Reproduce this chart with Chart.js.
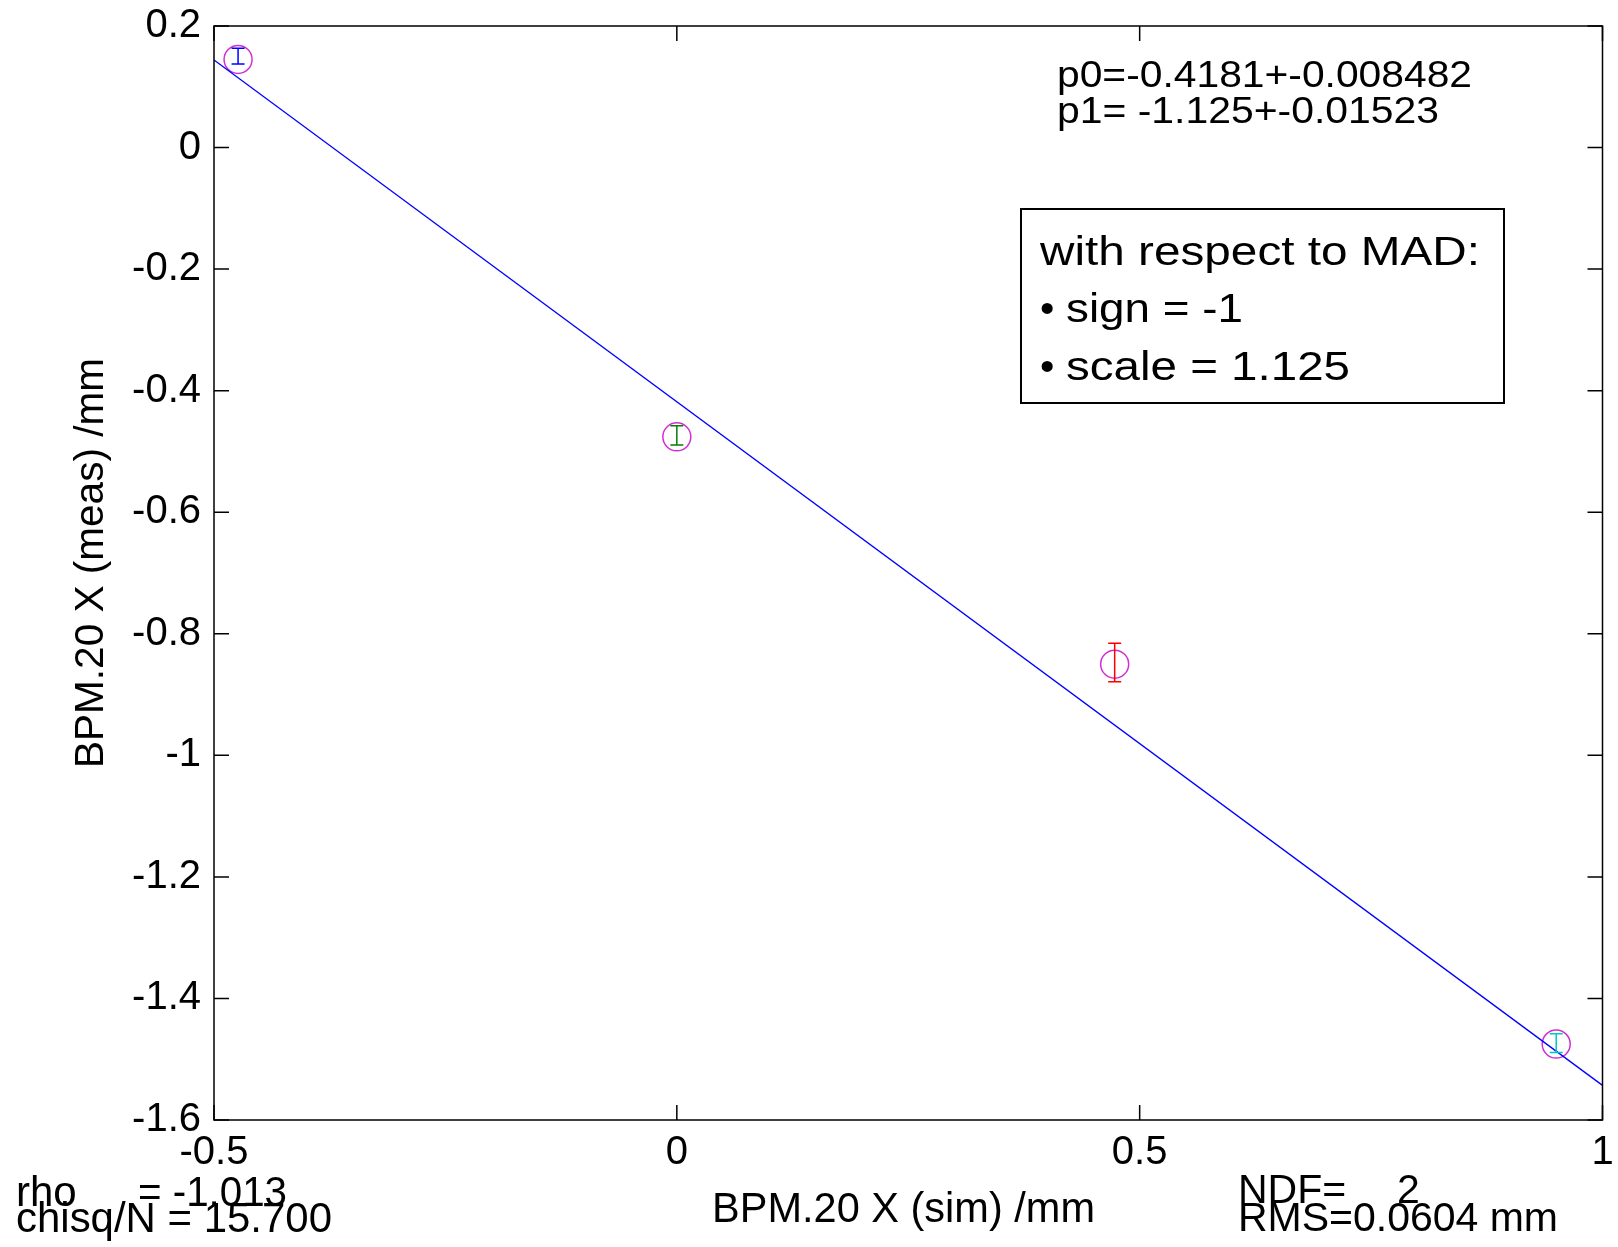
<!DOCTYPE html>
<html>
<head>
<meta charset="utf-8">
<title>BPM.20 X</title>
<script src="https://cdn.jsdelivr.net/npm/chart.js@4.4.0/dist/chart.umd.min.js"></script>
<style>
  html, body { margin: 0; padding: 0; background: #fff; }
  #wrap { width: 1618px; height: 1247px; }
</style>
</head>
<body>
<div id="wrap"><canvas id="bpmChart" width="1618" height="1247"></canvas></div>
<script>
// measured points, sim vs meas (mm)
const simX = [-0.474, 0.0, 0.473, 0.950];
const measY = [0.145, -0.476, -0.850, -1.475];
const errLow = [0.1375, -0.4894, -0.8788, -1.489];
const errHigh = [0.1633, -0.4576, -0.8156, -1.458];
const errColors = ['#0000ff', '#008000', '#ff0000', '#00c8c8'];

// fitted line, read at the plot edges
const fitX = [-0.5, 1.0];
const fitY = [0.144, -1.543];

const xTicks = [-0.5, 0, 0.5, 1];
const xTickLabels = ['-0.5', '0', '0.5', '1'];
const yTicks = [-1.6, -1.4, -1.2, -1, -0.8, -0.6, -0.4, -0.2, 0, 0.2];
const yTickLabels = ['-1.6', '-1.4', '-1.2', '-1', '-0.8', '-0.6', '-0.4', '-0.2', '0', '0.2'];

const FONT = '"Liberation Sans", Arial, Helvetica, sans-serif';

function putText(ctx, str, x, y, size, width) {
    ctx.save();
    ctx.font = size + 'px ' + FONT;
    ctx.fillStyle = '#000';
    ctx.textAlign = 'left';
    ctx.textBaseline = 'alphabetic';
    ctx.translate(x, y);
    if (width) {
        const w = ctx.measureText(str).width;
        ctx.scale(width / w, 1);
    }
    ctx.fillText(str, 0, 0);
    ctx.restore();
}

// box around the plot with inward ticks on all sides
const framePlugin = {
    id: 'frame',
    afterDraw(chart) {
        const ctx = chart.ctx;
        const ca = chart.chartArea;
        const xs = chart.scales.x;
        const ys = chart.scales.y;
        const tl = 15;
        ctx.save();
        ctx.strokeStyle = '#000';
        ctx.lineWidth = 1.5;
        ctx.strokeRect(ca.left, ca.top, ca.right - ca.left, ca.bottom - ca.top);
        ctx.beginPath();
        xTicks.forEach(v => {
            const px = xs.getPixelForValue(v);
            ctx.moveTo(px, ca.bottom); ctx.lineTo(px, ca.bottom - tl);
            ctx.moveTo(px, ca.top); ctx.lineTo(px, ca.top + tl);
        });
        yTicks.forEach(v => {
            const py = ys.getPixelForValue(v);
            ctx.moveTo(ca.left, py); ctx.lineTo(ca.left + tl, py);
            ctx.moveTo(ca.right, py); ctx.lineTo(ca.right - tl, py);
        });
        ctx.stroke();
        ctx.restore();
    }
};

// vertical error bars with caps
const errorBarPlugin = {
    id: 'errorBars',
    afterDatasetsDraw(chart) {
        const ctx = chart.ctx;
        const xs = chart.scales.x;
        const ys = chart.scales.y;
        const cap = 6.5;
        ctx.save();
        ctx.lineWidth = 1.5;
        for (let i = 0; i < simX.length; i++) {
            const px = xs.getPixelForValue(simX[i]);
            const y1 = ys.getPixelForValue(errHigh[i]);
            const y2 = ys.getPixelForValue(errLow[i]);
            ctx.strokeStyle = errColors[i];
            ctx.beginPath();
            ctx.moveTo(px, y1); ctx.lineTo(px, y2);
            ctx.moveTo(px - cap, y1); ctx.lineTo(px + cap, y1);
            ctx.moveTo(px - cap, y2); ctx.lineTo(px + cap, y2);
            ctx.stroke();
        }
        ctx.restore();
    }
};

// fit results, note box, axis titles and stats
const textPlugin = {
    id: 'texts',
    afterDraw(chart) {
        const ctx = chart.ctx;

        putText(ctx, 'p0=-0.4181+-0.008482', 1057, 87, 37, 415);
        putText(ctx, 'p1= -1.125+-0.01523', 1057, 123, 37, 382);

        ctx.save();
        ctx.strokeStyle = '#000';
        ctx.lineWidth = 2;
        ctx.strokeRect(1021, 209, 483, 194);
        ctx.restore();
        putText(ctx, 'with respect to MAD:', 1040, 265, 41, 440);
        putText(ctx, '\u2022', 1040, 322, 41);
        putText(ctx, 'sign = -1', 1066, 322, 41, 177);
        putText(ctx, '\u2022', 1040, 380, 41);
        putText(ctx, 'scale = 1.125', 1066, 380, 41, 284);

        putText(ctx, 'BPM.20 X (sim) /mm', 712, 1222, 42, 383);

        ctx.save();
        ctx.translate(103, 768);
        ctx.rotate(-Math.PI / 2);
        putText(ctx, 'BPM.20 X (meas) /mm', 0, 0, 41, 410);
        ctx.restore();

        putText(ctx, 'rho', 16, 1206, 42);
        putText(ctx, '= -1.013', 138, 1206, 42, 149);
        putText(ctx, 'chisq/N = 15.700', 16, 1232, 42, 316);

        putText(ctx, 'NDF=', 1238, 1203, 41);
        putText(ctx, '2', 1397, 1203, 41);
        putText(ctx, 'RMS=0.0604 mm', 1238, 1231, 41, 320);
    }
};

const ctx = document.getElementById('bpmChart').getContext('2d');
const bpmChart = new Chart(ctx, {
    type: 'scatter',
    data: {
        datasets: [{
            label: 'fit',
            data: fitX.map((x, i) => ({x: x, y: fitY[i]})),
            showLine: true,
            borderColor: '#0000ff',
            borderWidth: 1.3,
            pointRadius: 0,
            fill: false
        }, {
            label: 'BPM.20',
            data: simX.map((x, i) => ({x: x, y: measY[i]})),
            showLine: false,
            pointStyle: 'circle',
            pointRadius: 14,
            pointBorderWidth: 1.5,
            borderColor: '#d030d0',
            backgroundColor: 'rgba(0,0,0,0)'
        }]
    },
    options: {
        responsive: false,
        animation: false,
        devicePixelRatio: 1,
        layout: { padding: { top: 26, right: 14, left: 0, bottom: 0 } },
        plugins: {
            legend: { display: false },
            tooltip: { enabled: false }
        },
        scales: {
            x: {
                type: 'linear',
                min: -0.5,
                max: 1,
                grid: { display: false, drawTicks: false },
                border: { display: false },
                afterBuildTicks: (scale) => { scale.ticks = xTicks.map(v => ({value: v})); },
                afterFit: (scale) => {
                    scale.height = 127;
                    scale.paddingLeft = 0;
                    scale.paddingRight = 0;
                },
                ticks: {
                    autoSkip: false,
                    maxRotation: 0,
                    padding: 9,
                    color: '#000',
                    font: { family: FONT, size: 40 },
                    callback: (v) => xTickLabels[xTicks.indexOf(v)]
                }
            },
            y: {
                type: 'linear',
                min: -1.6,
                max: 0.2,
                grid: { display: false, drawTicks: false },
                border: { display: false },
                afterBuildTicks: (scale) => { scale.ticks = yTicks.map(v => ({value: v})); },
                afterFit: (scale) => {
                    scale.width = 214;
                    scale.paddingTop = 0;
                    scale.paddingBottom = 0;
                },
                ticks: {
                    autoSkip: false,
                    padding: 13,
                    color: '#000',
                    font: { family: FONT, size: 40 },
                    callback: (v) => yTickLabels[yTicks.indexOf(v)]
                }
            }
        }
    },
    plugins: [framePlugin, errorBarPlugin, textPlugin]
});
</script>
</body>
</html>
